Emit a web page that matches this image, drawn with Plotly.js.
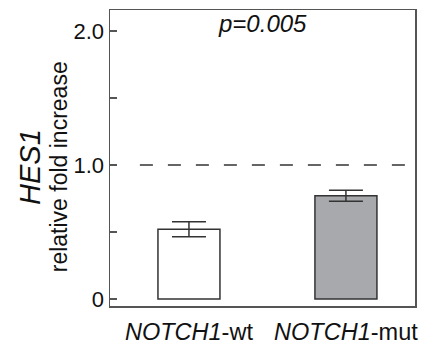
<!DOCTYPE html>
<html>
<head>
<meta charset="utf-8">
<script src="https://cdn.plot.ly/plotly-3.0.1.min.js"></script>
<style>html,body{margin:0;padding:0;background:#fff;}#chart{width:421px;height:349px;}</style>
</head>
<body>
<div id="chart"></div>
<script>
const categories = ["NOTCH1-wt", "NOTCH1-mut"];
const tickLabels = ["<i>NOTCH1</i>-wt", "<i>NOTCH1</i>-mut"];
const values = [0.52, 0.77];
const errors = [0.056, 0.041];
const barColors = ["#ffffff", "#a7a9ac"];
const refLevel = 1.0;
const pText = "<i>p=0.005</i>";
const yTickVals = [0, 0.5, 1, 1.5, 2];
const yTickText = ["0", "", "1.0", "", "2.0"];

const xIdx = categories.map((c, i) => i);

const trace = {
  type: "bar",
  x: xIdx,
  y: values,
  width: 0.395,
  marker: { color: barColors, line: { color: "#333333", width: 1.5 } },
  error_y: { type: "data", array: errors, visible: true, color: "#333333", thickness: 1.5, width: 17 },
  hoverinfo: "none"
};

const font = "Liberation Sans, Arial, sans-serif";
const txt = "#111111";

const layout = {
  width: 421, height: 349,
  margin: { l: 110, r: 6, t: 10, b: 43 },
  paper_bgcolor: "#ffffff", plot_bgcolor: "#ffffff",
  showlegend: false,
  font: { family: font, color: txt },
  xaxis: {
    range: [-0.503, 1.44],
    tickvals: xIdx, ticktext: tickLabels,
    showgrid: false, zeroline: false,
    showline: true, mirror: true, linecolor: "#555555", linewidth: 1.5,
    ticks: "", ticklabelstandoff: 4,
    tickfont: { size: 23.5, family: font, color: txt }
  },
  yaxis: {
    range: [-0.052, 2.157],
    tickvals: yTickVals, ticktext: yTickText,
    showgrid: false, zeroline: false,
    showline: true, mirror: true, linecolor: "#555555", linewidth: 1.5,
    ticks: "inside", ticklen: 7, tickwidth: 1.2, tickcolor: "#555555",
    tickfont: { size: 22, family: font, color: txt }
  },
  shapes: [{
    type: "line", xref: "paper", yref: "y",
    x0: 0.098, x1: 1, y0: refLevel, y1: refLevel,
    line: { color: "#333333", width: 1.5, dash: "13px,15px" }
  }],
  annotations: [
    { text: "<i>HES1</i>", xref: "paper", yref: "paper", x: -0.262, y: 0.47,
      xanchor: "center", yanchor: "middle", textangle: -90, showarrow: false,
      font: { size: 29, family: font, color: txt } },
    { text: "relative fold increase", xref: "paper", yref: "paper", x: -0.166, y: 0.47,
      xanchor: "center", yanchor: "middle", textangle: -90, showarrow: false,
      font: { size: 23, family: font, color: txt } },
    { text: pText, xref: "paper", yref: "paper", x: 0.5, y: 0.953,
      xanchor: "center", yanchor: "middle", showarrow: false,
      font: { size: 24, family: font, color: txt } }
  ]
};

Plotly.newPlot("chart", [trace], layout, { displayModeBar: false, staticPlot: true });
</script>
</body>
</html>
